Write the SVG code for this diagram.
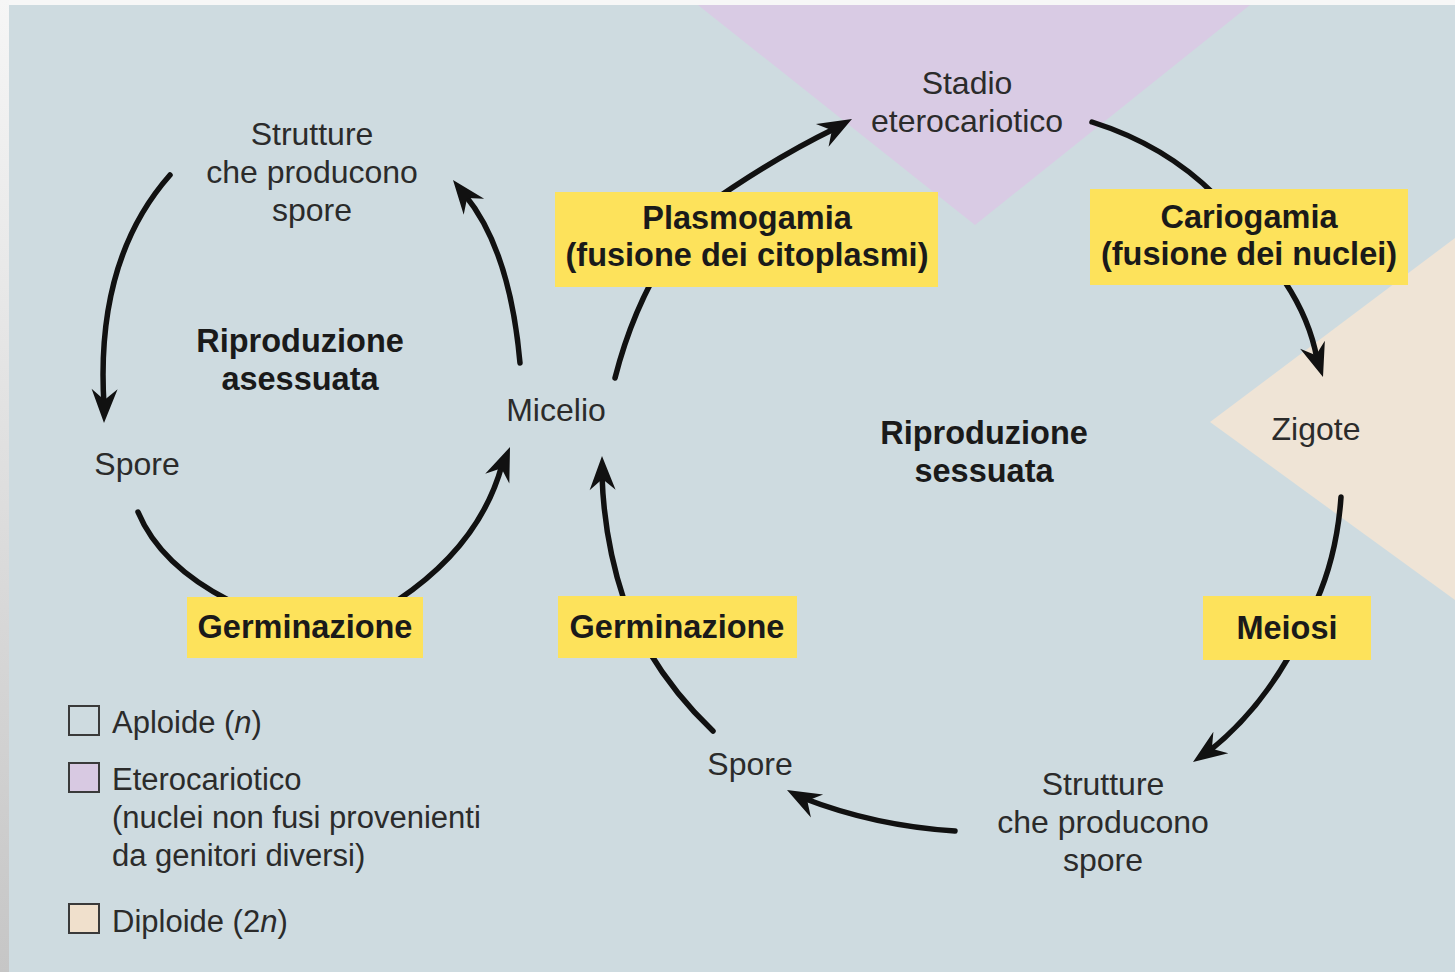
<svg xmlns="http://www.w3.org/2000/svg" xmlns:xlink="http://www.w3.org/1999/xlink" width="1455" height="972" viewBox="0 0 1455 972">
<style>
.t{font-family:"Liberation Sans",Arial,Helvetica,sans-serif;font-size:32px;fill:#2b2b2b;text-anchor:middle}
.b{font-family:"Liberation Sans",Arial,Helvetica,sans-serif;font-size:32.5px;font-weight:bold;fill:#1a1a1a;text-anchor:middle}
.lg{font-family:"Liberation Sans",Arial,Helvetica,sans-serif;font-size:31px;fill:#2b2b2b}
.box{fill:#fde25b}
.shaft{fill:none;stroke:#111;stroke-width:5.5;stroke-linecap:round}
.sq{stroke:#3a3a3a;stroke-width:2}
</style>
<defs>
<linearGradient id="edge" x1="0" y1="0" x2="0" y2="1">
<stop offset="0" stop-color="#f6f6f6"/>
<stop offset="1" stop-color="#c6c6c6"/>
</linearGradient>
<path id="ah" d="M0,0 L-34,-13 L-23,0 L-34,13 Z" fill="#111"/>
</defs>

<!-- background -->
<rect x="0" y="0" width="1455" height="972" fill="#f7f7f7"/>
<rect x="0" y="0" width="9" height="972" fill="url(#edge)"/>
<rect x="9" y="5" width="1446" height="967" fill="#cedbe0"/>
<polygon id="heterokaryotic-zone" points="698,5 1250,5 975,225" fill="#d9cbe4"/>
<polygon id="diploid-zone" points="1210,422 1455,238 1455,600" fill="#efe4d6"/>

<g id="connectors">
<path class="shaft" d="M170,175 Q95,260 104,405"/>
<use href="#ah" transform="translate(104,423) rotate(91)"/>
<path class="shaft" d="M138,512 Q160,565 230,601"/>
<path class="shaft" d="M398,600 Q480,545 502,465"/>
<use href="#ah" transform="translate(510,447) rotate(-68)"/>
<path class="shaft" d="M520,363 Q510,250 465,195"/>
<use href="#ah" transform="translate(453,180) rotate(-128)"/>
<path class="shaft" d="M615,378 Q640,280 700,210 Q770,160 836,128"/>
<use href="#ah" transform="translate(852,119) rotate(-29)"/>
<path class="shaft" d="M1092,122 Q1165,145 1215,195"/>
<path class="shaft" d="M1285,282 Q1310,320 1317,359"/>
<use href="#ah" transform="translate(1323,377) rotate(72)"/>
<path class="shaft" d="M1341,497 Q1337,555 1316,602"/>
<path class="shaft" d="M1288,658 Q1255,715 1208,752"/>
<use href="#ah" transform="translate(1193,762) rotate(145)"/>
<path class="shaft" d="M955,831 Q875,826 803,798"/>
<use href="#ah" transform="translate(787,790) rotate(-152)"/>
<path class="shaft" d="M713,731 Q675,695 648,650"/>
<path class="shaft" d="M624,600 Q604,540 602,475"/>
<use href="#ah" transform="translate(602,456) rotate(-91)"/>
</g>

<g id="node-strutture-asex">
<text class="t" x="312" y="145">Strutture</text>
<text class="t" x="312" y="183">che producono</text>
<text class="t" x="312" y="221">spore</text>
</g>
<g id="node-spore-asex">
<text class="t" x="137" y="475">Spore</text>
</g>
<g id="node-riproduzione-asessuata">
<text class="b" x="300" y="352">Riproduzione</text>
<text class="b" x="300" y="390">asessuata</text>
</g>
<g id="node-germinazione-asex">
<rect class="box" x="187" y="597" width="236" height="61"/>
<text class="b" x="305" y="638">Germinazione</text>
</g>
<g id="node-micelio">
<text class="t" x="556" y="421">Micelio</text>
</g>
<g id="node-plasmogamia">
<rect class="box" x="555" y="192" width="383" height="95"/>
<text class="b" x="747" y="229">Plasmogamia</text>
<text class="b" x="747" y="266">(fusione dei citoplasmi)</text>
</g>
<g id="node-stadio">
<text class="t" x="967" y="94">Stadio</text>
<text class="t" x="967" y="132">eterocariotico</text>
</g>
<g id="node-cariogamia">
<rect class="box" x="1090" y="189" width="318" height="96"/>
<text class="b" x="1249" y="228">Cariogamia</text>
<text class="b" x="1249" y="265">(fusione dei nuclei)</text>
</g>
<g id="node-zigote">
<text class="t" x="1316" y="440">Zigote</text>
</g>
<g id="node-riproduzione-sessuata">
<text class="b" x="984" y="444">Riproduzione</text>
<text class="b" x="984" y="482">sessuata</text>
</g>
<g id="node-meiosi">
<rect class="box" x="1203" y="596" width="168" height="64"/>
<text class="b" x="1287" y="639">Meiosi</text>
</g>
<g id="node-strutture-sex">
<text class="t" x="1103" y="795">Strutture</text>
<text class="t" x="1103" y="833">che producono</text>
<text class="t" x="1103" y="871">spore</text>
</g>
<g id="node-spore-sex">
<text class="t" x="750" y="775">Spore</text>
</g>
<g id="node-germinazione-sex">
<rect class="box" x="558" y="596" width="239" height="62"/>
<text class="b" x="677" y="638">Germinazione</text>
</g>

<g id="legend">
<rect class="sq" x="69" y="706" width="30" height="29" fill="#cedbe0"/>
<text class="lg" x="112" y="733">Aploide (<tspan font-style="italic">n</tspan>)</text>
<rect class="sq" x="69" y="763" width="30" height="29" fill="#d8c9e2"/>
<text class="lg" x="112" y="790">Eterocariotico</text>
<text class="lg" x="112" y="828">(nuclei non fusi provenienti</text>
<text class="lg" x="112" y="866">da genitori diversi)</text>
<rect class="sq" x="69" y="904" width="30" height="29" fill="#f0e0cc"/>
<text class="lg" x="112" y="932">Diploide (2<tspan font-style="italic">n</tspan>)</text>
</g>
</svg>
